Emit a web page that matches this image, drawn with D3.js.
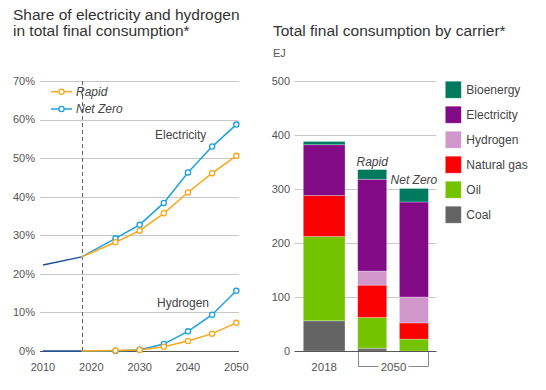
<!DOCTYPE html>
<html><head><meta charset="utf-8">
<script src="https://cdn.jsdelivr.net/npm/d3@7"></script>
<style>
html,body{margin:0;padding:0;background:#fff;}
svg{display:block;font-family:"Liberation Sans",Arial,sans-serif;}
</style></head>
<body>
<svg id="c" width="546" height="390"></svg>
<script>
// ---- Data: left chart (share of total final consumption, %) ----
const histYears = [2010, 2018];
const histElectricity = [22.3, 24.4];
const histHydrogen = [0, 0];
const scenYears = [2018, 2025, 2030, 2035, 2040, 2045, 2050];
const rapidElectricity = [24.4, 28.2, 31.2, 35.7, 41.1, 46.1, 50.6];
const netZeroElectricity = [24.4, 29.2, 32.7, 38.4, 46.3, 53.0, 58.7];
const rapidHydrogen = [0, 0.1, 0.25, 1.1, 2.6, 4.5, 7.3];
const netZeroHydrogen = [0, 0.0, 0.35, 1.8, 5.1, 9.4, 15.6];
const leftYTicks = [0, 10, 20, 30, 40, 50, 60, 70];
const leftXTicks = [2010, 2020, 2030, 2040, 2050];

// ---- Data: right chart (EJ) ----
const barCategories = ["2018", "Rapid", "Net Zero"];
const carriers = ["Coal", "Oil", "Natural gas", "Hydrogen", "Electricity", "Bioenergy"];
const coal = [56, 5, 0];
const oil = [156, 57, 22];
const naturalGas = [76, 60, 30];
const hydrogen = [0, 26, 48];
const electricity = [94, 170, 176];
const bioenergy = [6, 18, 25];
const rightYTicks = [0, 100, 200, 300, 400, 500];
const legendOrder = ["Bioenergy", "Electricity", "Hydrogen", "Natural gas", "Oil", "Coal"];

const colors = {
  "Bioenergy": "#007a5e",
  "Electricity": "#820a87",
  "Hydrogen": "#d197cb",
  "Natural gas": "#fa0000",
  "Oil": "#74c300",
  "Coal": "#646464"
};
const cRapid = "#f9a61b", cNet = "#1ca0e3", cHist = "#1a4f9e";
const textCol = "#555", titleCol = "#333";

const svg = d3.select("#c");

// ================= LEFT CHART =================
const L = svg.append("g");
L.append("text").attr("x", 13).attr("y", 20).attr("font-size", 15.5).attr("fill", titleCol)
  .text("Share of electricity and hydrogen");
L.append("text").attr("x", 13).attr("y", 35.5).attr("font-size", 15.5).attr("fill", titleCol)
  .text("in total final consumption*");

const x = d3.scaleLinear().domain([2010, 2050]).range([43, 236.3]);
const y = d3.scaleLinear().domain([0, 70]).range([351, 81]);

// gridlines
L.selectAll("line.grid").data(leftYTicks).join("line")
  .attr("x1", 40).attr("x2", 239)
  .attr("y1", d => Math.round(y(d)) + 0.5).attr("y2", d => Math.round(y(d)) + 0.5)
  .attr("stroke", d => d === 0 ? "#555" : "#c8c8c8").attr("stroke-width", 1);
L.selectAll("text.yt").data(leftYTicks).join("text")
  .attr("x", 35).attr("y", d => y(d)).attr("dy", "0.35em").attr("text-anchor", "end")
  .attr("font-size", 11).attr("fill", textCol).text(d => d + "%");
L.selectAll("text.xt").data(leftXTicks).join("text")
  .attr("x", d => x(d)).attr("y", 370.5).attr("text-anchor", "middle")
  .attr("font-size", 11).attr("fill", textCol).text(d => d);

// dashed 2018 line
L.append("line").attr("x1", Math.round(x(2018)) + 0.5).attr("x2", Math.round(x(2018)) + 0.5)
  .attr("y1", y(70)).attr("y2", y(0)).attr("stroke", "#666").attr("stroke-dasharray", "4,3");

const line = d3.line().x(d => x(d[0])).y(d => y(d[1]));
function drawSeries(years, vals, col, markers) {
  const pts = years.map((yr, i) => [yr, vals[i]]);
  L.append("path").attr("d", line(pts)).attr("fill", "none").attr("stroke", col).attr("stroke-width", 1.5);
  if (markers) {
    L.selectAll(null).data(pts.slice(1)).join("circle")
      .attr("cx", d => x(d[0])).attr("cy", d => y(d[1])).attr("r", 2.6)
      .attr("fill", "#fff").attr("stroke", col).attr("stroke-width", 1.3);
  }
}
drawSeries(histYears, histHydrogen, cHist, false);
drawSeries(histYears, histElectricity, cHist, false);
drawSeries(scenYears, netZeroHydrogen, cNet, true);
drawSeries(scenYears, rapidHydrogen, cRapid, true);
drawSeries(scenYears, netZeroElectricity, cNet, true);
drawSeries(scenYears, rapidElectricity, cRapid, true);

L.append("text").attr("x", 155).attr("y", 138.5).attr("font-size", 12).attr("fill", "#444").text("Electricity");
L.append("text").attr("x", 157).attr("y", 307).attr("font-size", 12).attr("fill", "#444").text("Hydrogen");

// legend
[["Rapid", cRapid, 91.7], ["Net Zero", cNet, 109]].forEach(([lab, col, yy]) => {
  L.append("line").attr("x1", 51).attr("x2", 72).attr("y1", yy).attr("y2", yy).attr("stroke", col).attr("stroke-width", 1.5);
  L.append("circle").attr("cx", 61.5).attr("cy", yy).attr("r", 2.6).attr("fill", "#fff").attr("stroke", col).attr("stroke-width", 1.3);
  L.append("text").attr("x", 76).attr("y", yy).attr("dy", "0.35em").attr("font-size", 12)
    .attr("font-style", "italic").attr("fill", "#444").text(lab);
});

// ================= RIGHT CHART =================
const R = svg.append("g");
R.append("text").attr("x", 273).attr("y", 35.5).attr("font-size", 15.5).attr("fill", titleCol)
  .text("Total final consumption by carrier*");
R.append("text").attr("x", 273).attr("y", 56.5).attr("font-size", 11).attr("fill", textCol).text("EJ");

const y2 = d3.scaleLinear().domain([0, 500]).range([351, 81]);
R.selectAll("line.grid").data(rightYTicks.filter(d => d > 0)).join("line")
  .attr("x1", 294.5).attr("x2", 436.5)
  .attr("y1", d => Math.round(y2(d)) + 0.5).attr("y2", d => Math.round(y2(d)) + 0.5)
  .attr("stroke", "#c8c8c8");
R.selectAll("text.yt").data(rightYTicks).join("text")
  .attr("x", 290).attr("y", d => y2(d)).attr("dy", "0.35em").attr("text-anchor", "end")
  .attr("font-size", 11).attr("fill", textCol).text(d => d);

// bar layout
const barWidths = [41.7, 29, 29], barGap = 12.7, barStart = 303.3;
const barX = [];
let cx = barStart;
barWidths.forEach(w => { barX.push(cx); cx += w + barGap; });

const series = { "Coal": coal, "Oil": oil, "Natural gas": naturalGas, "Hydrogen": hydrogen, "Electricity": electricity, "Bioenergy": bioenergy };
const table = barCategories.map((c, i) => {
  const o = { cat: c, i: i };
  carriers.forEach(k => o[k] = series[k][i]);
  return o;
});
const stacked = d3.stack().keys(carriers)(table);
R.selectAll("g.layer").data(stacked).join("g").attr("fill", d => colors[d.key])
  .selectAll("rect").data(d => d.filter(s => s[1] - s[0] > 0)).join("rect")
  .attr("x", d => barX[d.data.i]).attr("width", d => barWidths[d.data.i])
  .attr("y", d => y2(d[1])).attr("height", d => y2(d[0]) - y2(d[1]))
  .attr("stroke", "rgba(255,255,255,0.35)").attr("stroke-width", 0.8);

// zero axis line
R.append("line").attr("x1", 294.5).attr("x2", 436.5).attr("y1", Math.round(y2(0)) + 0.5).attr("y2", Math.round(y2(0)) + 0.5)
  .attr("stroke", "#555");

// scenario labels above bars
const totals = table.map(d => carriers.reduce((s, k) => s + d[k], 0));
[1, 2].forEach(i => {
  R.append("text").attr("x", barX[i] + barWidths[i] / 2).attr("y", y2(totals[i]) - 4)
    .attr("text-anchor", "middle").attr("font-size", 12).attr("font-style", "italic").attr("fill", "#444")
    .text(barCategories[i]);
});

// x labels
R.append("text").attr("x", barX[0] + barWidths[0] / 2).attr("y", 370.5).attr("text-anchor", "middle")
  .attr("font-size", 11.5).attr("fill", textCol).text("2018");
const bL = Math.round(barX[1]) + 0.5, bR = Math.round(barX[2] + barWidths[2]) + 0.5, bMid = (bL + bR) / 2;
R.append("text").attr("x", bMid).attr("y", 370.5).attr("text-anchor", "middle")
  .attr("font-size", 11.5).attr("fill", textCol).text("2050");
R.append("path").attr("d", `M${bL},352 V366.5 H${bMid - 15} M${bMid + 15},366.5 H${bR} V352`)
  .attr("fill", "none").attr("stroke", "#888");

// legend
legendOrder.forEach((k, i) => {
  const yy = 89.7 + i * 25;
  R.append("rect").attr("x", 445.3).attr("y", yy - 8.5).attr("width", 16).attr("height", 17).attr("fill", colors[k])
    .attr("stroke", "rgba(255,255,255,0.4)").attr("stroke-width", 0.8);
  R.append("text").attr("x", 466.3).attr("y", yy).attr("dy", "0.35em").attr("font-size", 12).attr("fill", "#444").text(k);
});
</script>
</body></html>
